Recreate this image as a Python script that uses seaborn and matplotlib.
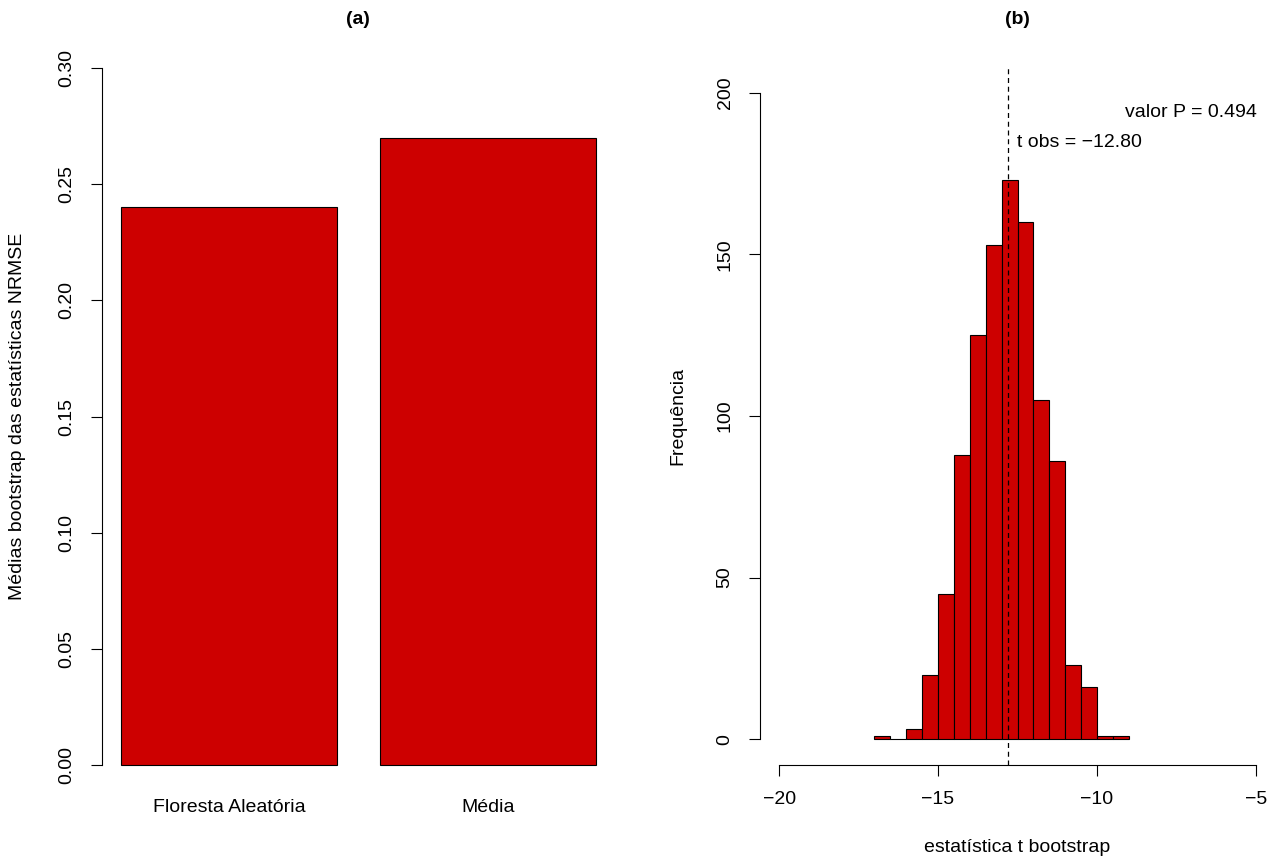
import numpy as np
import pandas as pd
import matplotlib
matplotlib.use("Agg")
import matplotlib.pyplot as plt
import seaborn as sns

sns.set_style("white")
plt.rcParams['font.family'] = ['Liberation Sans', 'DejaVu Sans']
plt.rcParams['axes.unicode_minus'] = True
for k in ["text.color", "axes.labelcolor", "xtick.color", "ytick.color",
          "axes.edgecolor", "xtick.labelcolor", "ytick.labelcolor"]:
    plt.rcParams[k] = "black"

# ---- data ----
categories = ["Floresta Aleatória", "Média"]
nrmse_means = [0.24, 0.27]

bin_edges = [-17.0, -16.5, -16.0, -15.5, -15.0, -14.5, -14.0, -13.5, -13.0,
             -12.5, -12.0, -11.5, -11.0, -10.5, -10.0, -9.5, -9.0]
bin_counts = [1, 0, 3, 20, 45, 88, 125, 153, 173, 160, 105, 86, 23, 16, 1, 1]
t_obs = -12.80
p_value = 0.494

bin_centers = [(a + b) / 2 for a, b in zip(bin_edges[:-1], bin_edges[1:])]

RED = "#CD0000"
FS = 14
W, H = 1282, 860
fig = plt.figure(figsize=(W / 100, H / 100), dpi=100)

def px_axes(l, r, t, b):
    return fig.add_axes([l / W, 1 - b / H, (r - l) / W, (b - t) / H])

# ---- (a) bar chart ----
ax1 = px_axes(102, 615, 40, 793)
df_bar = pd.DataFrame({"cat": categories, "val": nrmse_means})
sns.barplot(data=df_bar, x="cat", y="val", color=RED, saturation=1,
            width=1 / 1.2, edgecolor="black", linewidth=0.8, ax=ax1)
ax1.set_xlim(-0.49, 1.49)
ax1.set_ylim(-0.012, 0.312)
ax1.set_yticks([0, 0.05, 0.10, 0.15, 0.20, 0.25, 0.30])
ax1.set_yticklabels(["0.00", "0.05", "0.10", "0.15", "0.20", "0.25", "0.30"],
                    rotation=90, va="center", fontsize=FS)
ax1.tick_params(axis="y", length=8, width=0.8, pad=11, left=True,
                direction="out", color="black", labelcolor="black")
ax1.tick_params(axis="x", length=0, pad=4, labelsize=FS, labelcolor="black")
for s in ["top", "right", "bottom"]:
    ax1.spines[s].set_visible(False)
ax1.spines["left"].set_bounds(0, 0.30)
ax1.spines["left"].set_linewidth(0.8)
ax1.spines["left"].set_color("black")
ax1.set_xlabel("")
ax1.set_ylabel("")
fig.text(18 / W, 1 - 416 / H, "Médias bootstrap das estatísticas NRMSE",
         rotation=90, ha="center", va="center", fontsize=FS, color="black")
fig.text(358 / W, 1 - 20 / H, "(a)", ha="center", va="center",
         fontsize=FS, fontweight="bold", color="black")

# ---- (b) histogram ----
ax2 = px_axes(760, 1275, 67, 765)
sns.histplot(x=bin_centers, weights=bin_counts, bins=bin_edges, color=RED,
             alpha=1, edgecolor="black", linewidth=0.8, ax=ax2)
ax2.axvline(t_obs, color="black", linestyle=(0, (4, 3)), linewidth=0.9)
ax2.set_xlim(-20.6, -4.4)
ax2.set_ylim(-8, 208)
ax2.set_xticks([-20, -15, -10, -5])
ax2.set_xticklabels(["\u221220", "\u221215", "\u221210", "\u22125"], fontsize=FS)
ax2.set_yticks([0, 50, 100, 150, 200])
ax2.set_yticklabels(["0", "50", "100", "150", "200"], rotation=90,
                    va="center", fontsize=FS)
ax2.tick_params(axis="both", length=8, width=0.8, pad=11, direction="out",
                left=True, bottom=True, color="black", labelcolor="black")
for s in ["top", "right"]:
    ax2.spines[s].set_visible(False)
ax2.spines["left"].set_bounds(0, 200)
ax2.spines["bottom"].set_bounds(-20, -5)
for s in ["left", "bottom"]:
    ax2.spines[s].set_linewidth(0.8)
    ax2.spines[s].set_color("black")
ax2.set_xlabel("")
ax2.set_ylabel("")
ax2.text(-9.12, 194, f"valor P = {p_value:.3f}", fontsize=FS, ha="left",
         va="center", color="black")
ax2.text(-12.52, 184.5, f"t obs = \u2212{abs(t_obs):.2f}", fontsize=FS,
         ha="left", va="center", color="black")
fig.text(678 / W, 1 - 416 / H, "Frequência", rotation=90,
         ha="center", va="center", fontsize=FS, color="black")
fig.text(1017 / W, 1 - 848 / H, "estatística t bootstrap",
         ha="center", va="center", fontsize=FS, color="black")
fig.text(1017 / W, 1 - 20 / H, "(b)", ha="center", va="center",
         fontsize=FS, fontweight="bold", color="black")

fig.savefig("out.png", dpi=100)
